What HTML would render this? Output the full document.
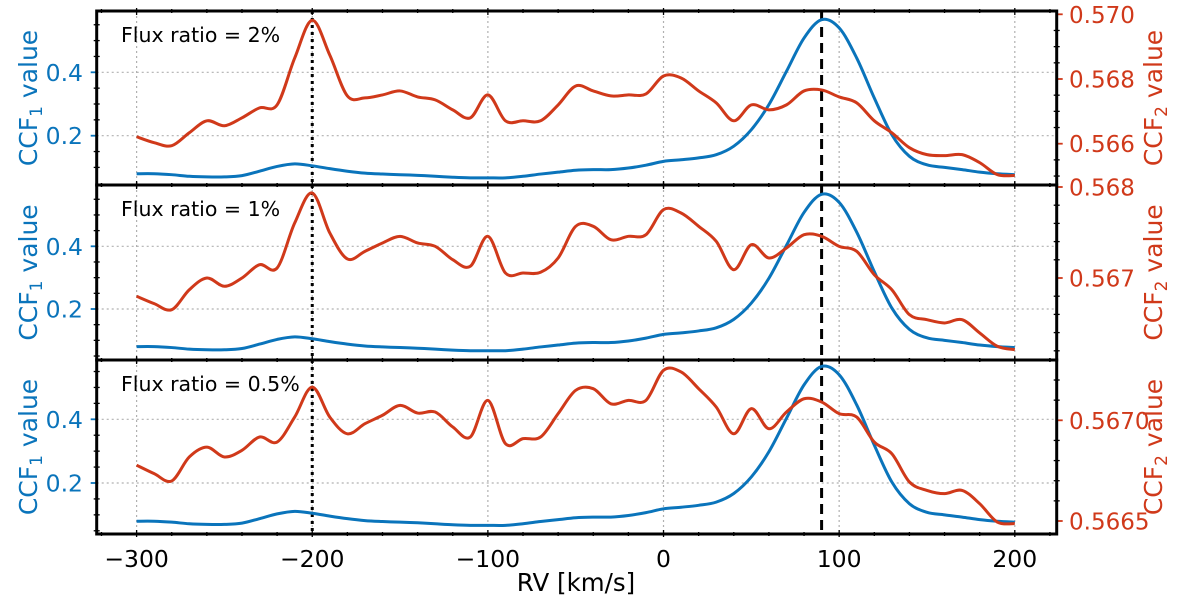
<!DOCTYPE html>
<html><head><meta charset="utf-8"><style>
html,body{margin:0;padding:0;background:#fff;}
svg{display:block;font-family:"DejaVu Sans","Liberation Sans",sans-serif;}
</style></head><body>
<svg id="chart" width="1200" height="600" viewBox="0 0 1200 600" xmlns="http://www.w3.org/2000/svg"></svg>
<script>
const rv = [-300,-290,-280,-270,-260,-250,-240,-230,-220,-210,-200,-190,-180,-170,-160,-150,-140,-130,-120,-110,-100,-90,-80,-70,-60,-50,-40,-30,-20,-10,0,10,20,30,40,50,60,70,80,90,100,110,120,130,140,150,160,170,180,190,200];
const ccf1 = [0.080,0.080,0.077,0.072,0.070,0.070,0.074,0.088,0.103,0.111,0.105,0.096,0.088,0.082,0.079,0.077,0.075,0.072,0.069,0.067,0.067,0.067,0.072,0.079,0.085,0.091,0.093,0.093,0.098,0.107,0.119,0.124,0.130,0.140,0.167,0.219,0.298,0.403,0.508,0.566,0.540,0.445,0.319,0.203,0.135,0.108,0.100,0.093,0.085,0.080,0.077];
const ccf2Flux2 = [0.566215,0.566031,0.565938,0.566338,0.566708,0.566554,0.5668,0.567108,0.5672,0.568646,0.569815,0.568738,0.567477,0.567415,0.567508,0.567631,0.567446,0.567354,0.567046,0.5668,0.567508,0.566708,0.566708,0.566708,0.5672,0.567785,0.567631,0.567477,0.567508,0.567538,0.568092,0.568031,0.567631,0.567262,0.566708,0.5672,0.567046,0.5672,0.567631,0.567662,0.567446,0.567262,0.566708,0.566338,0.565877,0.565662,0.565631,0.565662,0.565415,0.565046,0.565015];
const ccf2Flux1 = [0.566799,0.566718,0.566652,0.566871,0.567000,0.566909,0.567000,0.567146,0.567110,0.567604,0.567934,0.567495,0.567209,0.567293,0.567385,0.567458,0.567385,0.567348,0.567201,0.567129,0.567458,0.567055,0.567055,0.567063,0.567220,0.567568,0.567568,0.567421,0.567458,0.567476,0.567751,0.567714,0.567568,0.567403,0.567091,0.567366,0.567220,0.567330,0.567476,0.567458,0.567348,0.567293,0.567036,0.566871,0.566597,0.566542,0.566506,0.566542,0.566396,0.566250,0.566212];
const ccf2Flux05 = [0.566777,0.566735,0.566699,0.566818,0.566867,0.566818,0.566851,0.566917,0.566892,0.567016,0.567165,0.567016,0.566933,0.566983,0.567025,0.567074,0.567036,0.567041,0.566967,0.566917,0.567099,0.566884,0.566909,0.566917,0.567033,0.567149,0.567157,0.567082,0.567099,0.567099,0.567248,0.567240,0.567157,0.567066,0.566933,0.567058,0.566958,0.567041,0.567107,0.567091,0.567033,0.567016,0.566892,0.566834,0.566694,0.566652,0.566636,0.566652,0.566586,0.566495,0.566487];
const xTicks = [-300,-200,-100,0,100,200];
const leftTicks = [0.2,0.4];
const rightTicks1 = ["0.566","0.568","0.570"];
const rightTicks2 = ["0.567","0.568"];
const rightTicks3 = ["0.5665","0.5670"];
const panelLabels = ["Flux ratio = 2%","Flux ratio = 1%","Flux ratio = 0.5%"];
const secondaryRV = -200, primaryRV = 90;

const NS="http://www.w3.org/2000/svg";
const svg=document.getElementById('chart');
const BLUE="#0a74bb", RED="#d0391a";
const X0=96.7, X1=1056.7;
function xs(v){return 136.6+(v+300)*1.7564;}
function mk(tag,attrs,parent){const e=document.createElementNS(NS,tag);for(const k in attrs)e.setAttribute(k,attrs[k]);(parent||svg).appendChild(e);return e;}
function smooth(pts){let d="M"+pts[0][0].toFixed(2)+","+pts[0][1].toFixed(2);
 for(let i=0;i<pts.length-1;i++){const p0=pts[Math.max(0,i-1)],p1=pts[i],p2=pts[i+1],p3=pts[Math.min(pts.length-1,i+2)];
  const c1=[p1[0]+(p2[0]-p0[0])/6,p1[1]+(p2[1]-p0[1])/6],c2=[p2[0]-(p3[0]-p1[0])/6,p2[1]-(p3[1]-p1[1])/6];
  d+=" C"+c1[0].toFixed(2)+","+c1[1].toFixed(2)+" "+c2[0].toFixed(2)+","+c2[1].toFixed(2)+" "+p2[0].toFixed(2)+","+p2[1].toFixed(2);}
 return d;}

const panels=[
 {top:11,bot:185,l4:72.3,l2:135.7,rA:0.568,rAy:79,rB:0.566,rBy:143.7,major:0.002,minor:0.0005,rt:rightTicks1,data:ccf2Flux2,label:panelLabels[0]},
 {top:185,bot:360,l4:246.3,l2:309,rA:0.568,rAy:187,rB:0.567,rBy:278,major:0.001,minor:0.0002,rt:rightTicks2,data:ccf2Flux1,label:panelLabels[1]},
 {top:360,bot:534,l4:419.3,l2:483,rA:0.5670,rAy:420.3,rB:0.5665,rBy:521,major:0.0005,minor:0.0001,rt:rightTicks3,data:ccf2Flux05,label:panelLabels[2]}
];

panels.forEach((p,pi)=>{
 const g=mk('g',{});
 
 
 const yl=v=>p.l4+(0.4-v)*(p.l2-p.l4)/0.2;
 const yr=v=>p.rAy+(p.rA-v)*(p.rBy-p.rAy)/(p.rA-p.rB);
 xTicks.forEach(t=>{const e=mk('line',{x1:xs(t),x2:xs(t),y1:p.top,y2:p.bot,stroke:"#b0b0b0","stroke-width":1.2,"stroke-dasharray":"2,3"},g);
  });
 leftTicks.forEach(t=>{const e=mk('line',{x1:X0,x2:X1,y1:yl(t),y2:yl(t),stroke:"#b0b0b0","stroke-width":1.2,"stroke-dasharray":"2,3"},g);
  });
 const vs=mk('line',{x1:xs(secondaryRV),x2:xs(secondaryRV),y1:p.top,y2:p.bot,stroke:"#000","stroke-width":3,"stroke-dasharray":"3,4"},g);
 
 const vp=mk('line',{x1:xs(primaryRV),x2:xs(primaryRV),y1:p.top,y2:p.bot,stroke:"#000","stroke-width":3,"stroke-dasharray":"10,6"},g);
 
 const b=mk('path',{d:smooth(rv.map((v,i)=>[xs(v),yl(ccf1[i])])),fill:"none",stroke:BLUE,"stroke-width":3},g);
 
 const r=mk('path',{d:smooth(rv.map((v,i)=>[xs(v),yr(p.data[i])])),fill:"none",stroke:RED,"stroke-width":3},g);
 
 for(let t=-320;t<=220;t+=20){const x=xs(t);if(x<X0||x>X1)continue;const maj=(t%100===0);const L=maj?6:4;
  mk('line',{x1:x,x2:x,y1:p.top-L/2,y2:p.top+L/2+ (maj?1:0),stroke:"#000","stroke-width":1.3},g);
  mk('line',{x1:x,x2:x,y1:p.bot-L/2-(maj?1:0),y2:p.bot+L/2,stroke:"#000","stroke-width":1.3},g);}
 for(let k=1;k<=12;k++){const v=k*0.05;const y=yl(v);if(y<p.top+2||y>p.bot-2)continue;
  if(Math.abs(v-0.2)<1e-6||Math.abs(v-0.4)<1e-6){mk('line',{x1:X0-6,x2:X0,y1:y,y2:y,stroke:BLUE,"stroke-width":1.8},g);}
  else mk('line',{x1:X0-3,x2:X0+3,y1:y,y2:y,stroke:"#000","stroke-width":1.3},g);}
 leftTicks.forEach(t=>{const e=mk('text',{x:83,y:yl(t)+8.5,"text-anchor":"end","font-size":23.5,fill:BLUE},g);e.textContent=t.toFixed(1);
  });
 const n0=Math.ceil((p.rB-0.01)/p.minor), n1=Math.floor((p.rA+0.01)/p.minor);
 for(let n=n0;n<=n1;n++){const v=n*p.minor;const y=yr(v);if(y<p.top+1||y>p.bot-1)continue;
  const isMaj=Math.abs(v/p.major-Math.round(v/p.major))<1e-4;
  if(isMaj)mk('line',{x1:X1,x2:X1+6,y1:y,y2:y,stroke:RED,"stroke-width":1.8},g);
  else mk('line',{x1:X1-3,x2:X1+3,y1:y,y2:y,stroke:"#000","stroke-width":1.3},g);}
 p.rt.forEach(s=>{const e=mk('text',{x:1069,y:yr(parseFloat(s))+8.5,"font-size":23,fill:RED},g);e.textContent=s;
  });
 const sp=mk('rect',{x:X0,y:p.top,width:X1-X0,height:p.bot-p.top,fill:"none",stroke:"#000","stroke-width":3},g);
 
 const fl=mk('text',{x:121,y:p.top+31,"font-size":20.5,fill:"#000"},g);fl.textContent=p.label;
 
 const cy=(p.top+p.bot)/2;
 const t1=mk('text',{x:0,y:0,"font-size":25,fill:BLUE,"text-anchor":"middle",transform:`translate(37,${cy}) rotate(-90)`},g);
 t1.innerHTML='CCF<tspan font-size="17" dy="5">1</tspan><tspan dy="-5"> value</tspan>';
 
 const t2=mk('text',{x:0,y:0,"font-size":25,fill:RED,"text-anchor":"middle",transform:`translate(1162,${cy}) rotate(-90)`},g);
 t2.innerHTML='CCF<tspan font-size="17" dy="5">2</tspan><tspan dy="-5"> value</tspan>';
 
});
xTicks.forEach(t=>{const e=mk('text',{x:xs(t),y:567,"text-anchor":"middle","font-size":23.5,fill:"#000"});
 e.textContent=(t<0?"\u2212"+(-t):String(t));
 });
const xt=mk('text',{x:576,y:591,"text-anchor":"middle","font-size":24.5,fill:"#000"});xt.textContent="RV [km/s]";

</script>
</body></html>
